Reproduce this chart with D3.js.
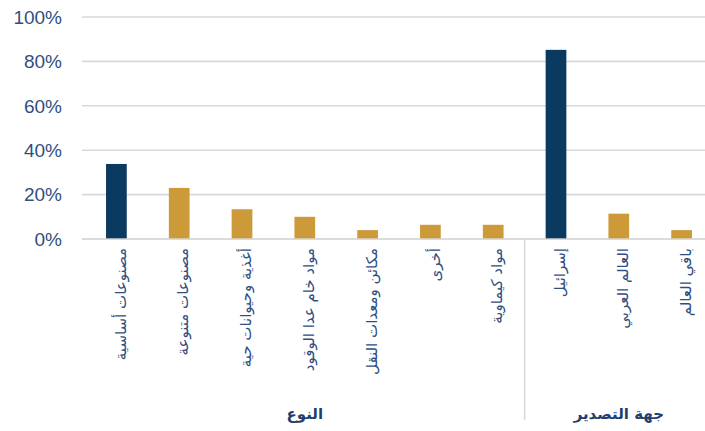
<!DOCTYPE html>
<html>
<head>
<meta charset="utf-8">
<script src="https://cdn.jsdelivr.net/npm/d3@7"></script>
<style>
  body { margin: 0; background: #fff; }
  svg { display: block; }
</style>
</head>
<body>
<div id="chart"></div>
<script>
// chart data
var categories = ["مصنوعات أساسية", "مصنوعات متنوعة", "أغذية وحيوانات حية", "مواد خام عدا الوقود",
                  "مكائن ومعدات النقل", "أخرى", "مواد كيماوية", "إسرائيل", "العالم العربي", "باقي العالم"];
var values = [0.338, 0.23, 0.134, 0.10, 0.04, 0.064, 0.064, 0.852, 0.114, 0.04];
var groups = ["النوع", "النوع", "النوع", "النوع", "النوع", "النوع", "النوع",
              "جهة التصدير", "جهة التصدير", "جهة التصدير"];
var yTicks = [0, 0.2, 0.4, 0.6, 0.8, 1];

var W = 705, H = 431;
var margin = {top: 17, right: -8, bottom: 192, left: 85};

var svg = d3.select("#chart").append("svg")
    .attr("width", W)
    .attr("height", H);

// set the ranges
var x = d3.scaleBand().domain(d3.range(categories.length))
    .range([margin.left, W - margin.right]).paddingInner(0.67).paddingOuter(0.335);
var y = d3.scaleLinear().domain([0, 1]).range([H - margin.bottom, margin.top]);

var textCol = "#2f4f7f";

// gridlines
svg.append("g").selectAll("line")
    .data(yTicks)
  .enter().append("line")
    .attr("x1", 82).attr("x2", W)
    .attr("y1", function(d) { return y(d); })
    .attr("y2", function(d) { return y(d); })
    .attr("stroke", "#d9d9d9")
    .attr("stroke-width", 1.6);

// y axis labels
svg.append("g").selectAll("text")
    .data(yTicks)
  .enter().append("text")
    .attr("x", 62)
    .attr("y", function(d) { return y(d); })
    .attr("dy", "0.36em")
    .attr("text-anchor", "end")
    .attr("font-family", "'Liberation Sans', Arial, sans-serif")
    .attr("font-size", 19)
    .attr("fill", textCol)
    .text(function(d) { return d3.format(".0%")(d); });

// bars: first bar of each group is highlighted
svg.append("g").selectAll("rect")
    .data(values)
  .enter().append("rect")
    .attr("x", function(d, i) { return x(i); })
    .attr("width", x.bandwidth())
    .attr("y", function(d) { return y(d); })
    .attr("height", function(d) { return y(0) - y(d); })
    .attr("fill", function(d, i) { return (i === 0 || groups[i] !== groups[i - 1]) ? "#0b3a60" : "#cc9a38"; });

// baseline over the bars
svg.append("line")
    .attr("x1", 82).attr("x2", W)
    .attr("y1", y(0)).attr("y2", y(0))
    .attr("stroke", "#d9d9d9")
    .attr("stroke-opacity", 0.7)
    .attr("stroke-width", 2);

// category labels, rotated
svg.append("g").selectAll("text")
    .data(categories)
  .enter().append("text")
    .attr("transform", function(d, i) {
      return "translate(" + (x(i) + x.bandwidth() / 2 + 4) + "," + (y(0) + 9) + ") rotate(-90)";
    })
    .attr("dy", "0.35em")
    .attr("text-anchor", "end")
    .attr("font-family", "'DejaVu Sans', sans-serif")
    .attr("font-size", 15)
    .attr("fill", textCol)
    .text(function(d) { return d; });

// group separator and group labels
var groupNames = Array.from(new Set(groups));
var step = x.step();
groupNames.forEach(function(g, k) {
  var idx = d3.range(groups.length).filter(function(i) { return groups[i] === g; });
  var x0 = x(idx[0]) - step * x.paddingInner() / 2 - (k === 0 ? 0 : 0);
  var left = x(idx[0]) + x.bandwidth() / 2 - step / 2;
  var right = x(idx[idx.length - 1]) + x.bandwidth() / 2 + step / 2;
  if (k > 0) {
    svg.append("line")
        .attr("x1", left).attr("x2", left)
        .attr("y1", y(0)).attr("y2", 420)
        .attr("stroke", "#d9d9d9")
        .attr("stroke-width", 1.6);
  }
  svg.append("text")
      .attr("x", (left + right) / 2)
      .attr("y", 419)
      .attr("text-anchor", "middle")
      .attr("font-family", "'DejaVu Sans', sans-serif")
      .attr("font-weight", "bold")
      .attr("font-size", 15)
      .attr("fill", "#1f3f6e")
      .text(g);
});
</script>
</body>
</html>
